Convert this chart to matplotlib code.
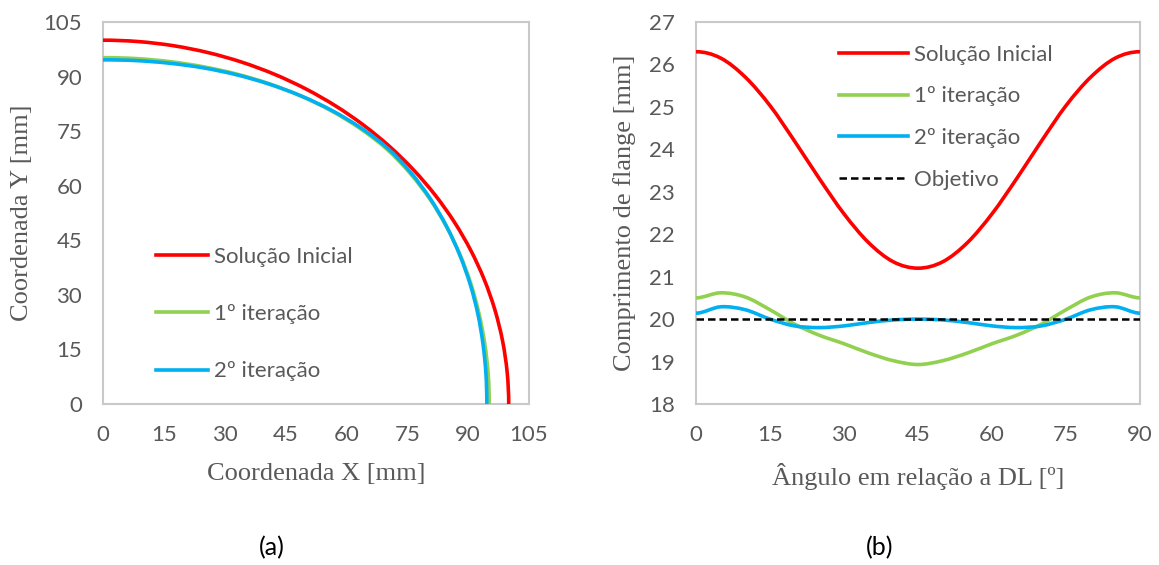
import numpy as np
import matplotlib
matplotlib.use("Agg")
import matplotlib.pyplot as plt
from matplotlib.path import Path
from matplotlib.patches import PathPatch
from matplotlib.lines import Line2D

# --- dados ---
# (a) contorno do blank: raio [mm] a cada 5 graus a partir de DL
ang_blank = [0, 5, 10, 15, 20, 25, 30, 35, 40, 45, 50, 55, 60, 65, 70, 75, 80, 85, 90]
r_inicial = [100.0] * 19
r_iter1 = [95.2, 95.3, 95.55, 95.95, 96.5, 97.1, 97.7, 98.3, 98.75, 99.0,
           98.75, 98.3, 97.7, 97.1, 96.5, 95.95, 95.55, 95.3, 95.2]
r_iter2 = [94.6, 94.75, 95.1, 95.65, 96.3, 97.0, 97.75, 98.45, 99.0, 99.3,
           99.0, 98.45, 97.75, 97.0, 96.3, 95.65, 95.1, 94.75, 94.6]

# (b) comprimento de flange [mm]
ang_flange = [0, 5, 10, 15, 20, 25, 30, 35, 40, 45, 50, 55, 60, 65, 70, 75, 80, 85, 90]
fl_inicial = [26.30, 26.15, 25.70, 25.03, 24.19, 23.31, 22.48, 21.80, 21.35, 21.20,
              21.35, 21.80, 22.48, 23.31, 24.19, 25.03, 25.70, 26.15, 26.30]
fl_iter1 = [20.50, 20.62, 20.52, 20.22, 19.88, 19.62, 19.42, 19.20, 19.02, 18.93,
            19.02, 19.20, 19.42, 19.62, 19.88, 20.22, 20.52, 20.62, 20.50]
fl_iter2 = [20.14, 20.29, 20.22, 20.00, 19.84, 19.80, 19.84, 19.92, 19.98, 20.00,
            19.98, 19.92, 19.84, 19.80, 19.84, 20.00, 20.22, 20.29, 20.14]
ang_obj = [0, 90]
fl_obj = [20, 20]

labels = ['Solução Inicial', '1º iteração', '2º iteração', 'Objetivo']
cores = ['#FF0000', '#92D050', '#00B0F0', 'black']

tick_font = 'Lato'
label_font = 'Liberation Serif'
cinza = '#595959'
fs_tick = 16
fs_label = 19


def curva_suave(ax, x, y, cor, ini, fim, lw=2.6):
    # linha suavizada tipo Excel (Catmull-Rom -> Bezier)
    # ini/fim: pontos espelhados usados para a tangente nas pontas
    p = np.column_stack([x, y]).astype(float)
    ext = np.vstack([ini, p, fim])
    verts = [p[0]]
    codes = [Path.MOVETO]
    for i in range(len(p) - 1):
        p0, p1, p2, p3 = ext[i], ext[i + 1], ext[i + 2], ext[i + 3]
        verts += [p1 + (p2 - p0) / 6, p2 - (p3 - p1) / 6, p2]
        codes += [Path.CURVE4] * 3
    ax.add_patch(PathPatch(Path(verts, codes), fill=False, edgecolor=cor,
                           lw=lw, capstyle='butt', zorder=3))


def estilo(ax):
    for s in ax.spines.values():
        s.set_color('#C9C9C9')
        s.set_linewidth(1.5)
    ax.tick_params(length=0, labelsize=fs_tick, labelcolor=cinza)
    ax.tick_params(axis='x', pad=15)
    ax.tick_params(axis='y', pad=15)
    for t in ax.get_xticklabels() + ax.get_yticklabels():
        t.set_fontfamily(tick_font)


fig = plt.figure(figsize=(11.59, 5.65), dpi=100)
ax1 = fig.add_axes([103 / 1159, 161 / 565, 426 / 1159, 382 / 565])
ax2 = fig.add_axes([696 / 1159, 161 / 565, 444 / 1159, 382 / 565])

# (a)
th = np.radians(ang_blank)
for r, cor in zip([r_inicial, r_iter1, r_iter2], cores[:3]):
    r = np.array(r)
    x, y = r * np.cos(th), r * np.sin(th)
    curva_suave(ax1, x, y, cor, (x[1], -y[1]), (-x[-2], y[-2]))
ax1.set_xlim(0, 105)
ax1.set_ylim(0, 105)
ax1.set_xticks(range(0, 106, 15))
ax1.set_yticks(range(0, 106, 15))
estilo(ax1)
ax1.set_xlabel('Coordenada X [mm]', fontfamily=label_font, fontsize=fs_label, color=cinza)
ax1.set_ylabel('Coordenada Y [mm]', fontfamily=label_font, fontsize=fs_label, color=cinza)
ax1.xaxis.set_label_coords(0.5, -0.155)
ax1.yaxis.set_label_coords(-0.165, 0.5)

h1 = [Line2D([], [], color=c, lw=2.6) for c in cores[:3]]
ax1.legend(h1, labels[:3], loc='upper left', bbox_to_anchor=(0.124, 0.412),
           frameon=False, borderpad=0, borderaxespad=0, handlelength=2.35,
           handletextpad=0.25, labelspacing=1.68,
           prop={'family': tick_font, 'size': fs_tick}, labelcolor=cinza)

# (b)
a = np.array(ang_flange, dtype=float)
for y, cor in zip([fl_inicial, fl_iter1, fl_iter2], cores[:3]):
    curva_suave(ax2, a, y, cor, (2 * a[0] - a[1], y[1]), (2 * a[-1] - a[-2], y[-2]))
ax2.plot(ang_obj, fl_obj, color='black', lw=1.8, ls=(0, (3, 1.6)), zorder=4)
ax2.set_xlim(0, 90)
ax2.set_ylim(18, 27)
ax2.set_xticks(range(0, 91, 15))
ax2.set_yticks(range(18, 28))
estilo(ax2)
ax2.set_xlabel('Ângulo em relação a DL [º]', fontfamily=label_font, fontsize=fs_label, color=cinza)
ax2.set_ylabel('Comprimento de flange [mm]', fontfamily=label_font, fontsize=fs_label, color=cinza)
ax2.xaxis.set_label_coords(0.5, -0.155)
ax2.yaxis.set_label_coords(-0.135, 0.5)

h2 = [Line2D([], [], color=c, lw=2.6) for c in cores[:3]]
h2.append(Line2D([], [], color='black', lw=1.8, ls=(0, (3, 1.6))))
ax2.legend(h2, labels, loc='upper left', bbox_to_anchor=(0.322, 0.940),
           frameon=False, borderpad=0, borderaxespad=0, handlelength=3.1,
           handletextpad=0.27, labelspacing=0.97,
           prop={'family': tick_font, 'size': fs_tick}, labelcolor=cinza)

fig.text(272 / 1159, 1 - 548 / 565, '(a)', ha='center', va='center',
         fontfamily=tick_font, fontsize=18, color='black')
fig.text(880 / 1159, 1 - 548 / 565, '(b)', ha='center', va='center',
         fontfamily=tick_font, fontsize=18, color='black')

fig.savefig('out.png', dpi=100, facecolor='white')
